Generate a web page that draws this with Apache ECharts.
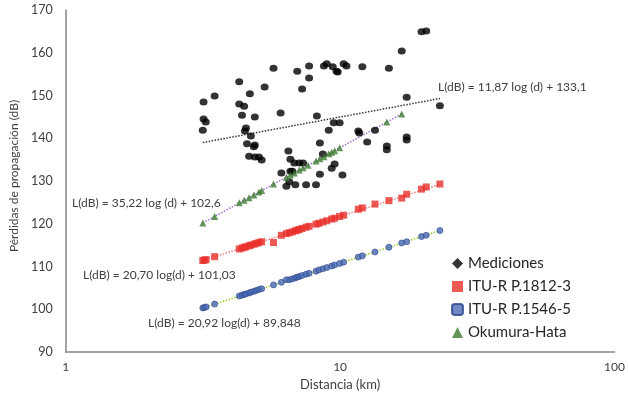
<!DOCTYPE html>
<html>
<head>
<meta charset="utf-8">
<script src="https://cdn.jsdelivr.net/npm/echarts@6/dist/echarts.min.js"></script>
<style>
  html, body { margin: 0; padding: 0; background: #fff; }
  #chart { width: 628px; height: 396px; }
</style>
</head>
<body>
<div id="chart"></div>
<script>
// datos: [distancia km, perdidas dB]
const mediciones = [
  [3.18,148.5],[3.49,149.9],[3.16,141.9],[3.18,144.5],[3.24,143.8],
  [4.29,153.2],[4.29,148.0],[4.47,147.5],[4.69,150.4],[4.39,145.4],[4.89,145.0],
  [4.54,142.4],[4.50,141.7],[4.73,140.5],[4.58,138.7],[4.89,138.4],[4.85,138.0],
  [4.66,135.8],[4.89,135.6],[5.06,135.6],[5.18,134.9],
  [5.31,152.0],[5.72,156.4],[6.07,145.9],[6.98,155.7],[7.71,156.9],[7.71,154.1],[7.27,151.5],
  [8.23,145.2],[6.48,137.0],[6.59,135.1],[6.81,134.2],[7.10,134.2],[7.33,134.2],
  [6.11,131.9],[6.59,132.3],[6.70,132.3],[6.53,129.8],[6.37,128.8],[6.87,129.1],[7.52,129.1],[8.17,129.1],
  [8.44,138.9],[8.44,131.6],
  [8.73,156.9],[8.94,157.4],[9.40,156.7],[9.70,155.7],[9.80,155.5],[10.3,157.4],[10.55,156.9],[12.05,156.7],[15.06,156.4],
  [16.77,160.4],[19.8,164.9],[20.6,165.1],[17.48,149.6],[23.1,147.6],
  [9.48,143.6],[9.96,143.6],[9.09,141.9],[11.65,141.7],[11.75,141.2],[13.4,141.9],
  [12.55,139.1],[14.8,138.2],[14.8,137.3],[17.48,140.3],[17.48,139.6],
  [8.65,136.3],[9.55,134.0],[9.32,133.0],[10.2,131.4]
];

const distModelos = [3.16,3.2,3.25,3.49,4.29,4.39,4.47,4.54,4.66,4.73,4.85,4.95,5.06,5.18,5.72,
  6.11,6.37,6.53,6.7,6.87,6.98,7.1,7.27,7.52,7.71,8.17,8.37,8.65,8.94,9.32,9.55,9.96,10.3,
  11.65,12.05,13.4,15.06,16.77,17.48,19.8,20.6,23.1];

const p1812 = [111.4,111.5,111.6,112.3,114.1,114.3,114.5,114.6,114.85,115.0,115.2,115.4,115.6,115.8,115.6,
  117.3,117.7,117.9,118.1,118.35,118.5,118.65,118.9,119.2,119.4,119.9,120.1,120.4,120.7,121.1,121.3,121.7,122.0,
  123.4,123.7,124.6,125.4,126.0,126.9,128.1,128.6,129.3];

const p1546 = [100.3,100.4,100.55,101.2,103.1,103.3,103.45,103.6,103.8,104.0,104.2,104.4,104.6,104.8,105.7,
  106.3,106.9,106.9,107.1,107.35,107.5,107.65,107.9,108.2,108.4,108.9,109.2,109.45,109.75,110.1,110.35,110.7,111.0,
  112.2,112.5,113.4,114.5,115.5,115.8,117.0,117.3,118.4];

const distHata = [3.16,3.49,4.29,4.47,4.66,4.85,5.06,5.18,5.72,6.37,6.59,6.81,7.1,7.33,7.64,
  8.17,8.44,8.73,9.09,9.32,9.55,9.96,14.8,16.77];
const okumuraHata = [120.2,121.7,124.9,125.5,126.1,126.75,127.4,127.8,129.3,130.9,131.4,131.9,132.6,133.1,133.7,
  134.7,135.2,135.7,136.4,136.7,137.1,137.8,143.8,145.7];

// extremos de las lineas de tendencia
const tendMediciones = [[3.16,139.0],[23.1,149.3]];
const tendP1812 = [[3.16,111.4],[23.1,129.2]];
const tendP1546 = [[3.16,100.3],[23.1,118.4]];
const tendHata = [[3.16,120.2],[16.77,145.7]];

const yTicks = { min: 90, max: 170, interval: 10 };

const ecuaciones = [
  { text: 'L(dB) = 11,87 log (d) + 133,1', x: 438, y: 88 },
  { text: 'L(dB) = 35,22 log (d) + 102,6', x: 72, y: 204 },
  { text: 'L(dB) = 20,70 log(d) + 101,03', x: 83, y: 276 },
  { text: 'L(dB) = 20,92 log(d) + 89,848', x: 148, y: 324 }
];

const zip = (xs, ys) => xs.map((x, i) => [x, ys[i]]);
const FONT = 'Lato, "Open Sans", sans-serif';

const chart = echarts.init(document.getElementById('chart'));

function tendencia(data, color) {
  return {
    type: 'line',
    data: data,
    showSymbol: false,
    silent: true,
    z: 1,
    lineStyle: { type: 'dotted', width: 1.5, color: color }
  };
}

const option = {
  animation: false,
  textStyle: { fontFamily: FONT },
  grid: { left: 60, top: 10, right: 11, bottom: 44 },
  legend: {
    orient: 'vertical',
    left: 446,
    top: 251,
    itemGap: 8,
    itemWidth: 11,
    itemHeight: 11,
    textStyle: { fontSize: 15, color: '#262626', fontFamily: FONT },
    data: [
      { name: 'Mediciones', icon: 'diamond' },
      { name: 'ITU-R P.1812-3', icon: 'rect' },
      { name: 'ITU-R P.1546-5', icon: 'roundRect' },
      { name: 'Okumura-Hata', icon: 'triangle' }
    ]
  },
  xAxis: {
    type: 'log',
    logBase: 10,
    min: 1,
    max: 100,
    name: 'Distancia (km)',
    nameLocation: 'middle',
    nameGap: 25,
    nameTextStyle: { fontSize: 13, color: '#404040' },
    axisLine: { lineStyle: { color: '#868686', width: 1.5 } },
    axisTick: { show: false },
    minorTick: { show: false },
    splitLine: { show: false },
    axisLabel: { fontSize: 12, color: '#404040', margin: 9 }
  },
  yAxis: {
    type: 'value',
    min: yTicks.min,
    max: yTicks.max,
    interval: yTicks.interval,
    name: 'Pérdidas de propagación (dB)',
    nameLocation: 'middle',
    nameGap: 45,
    nameTextStyle: { fontSize: 12, color: '#404040', padding: [0, 0, 0, 10] },
    axisLine: { show: true, lineStyle: { color: '#868686', width: 1.5 } },
    axisTick: { show: false },
    splitLine: { show: false },
    axisLabel: { fontSize: 12.5, color: '#404040', margin: 13 }
  },
  graphic: ecuaciones.map(e => ({
    type: 'text',
    left: e.x,
    top: e.y - 7,
    style: { text: e.text, fill: '#404040', font: '12px ' + FONT }
  })),
  series: [
    tendencia(tendMediciones, '#333333'),
    tendencia(tendP1812, '#f08080'),
    tendencia(tendP1546, '#9acd32'),
    tendencia(tendHata, '#a070d0'),
    {
      name: 'Mediciones',
      type: 'scatter',
      data: mediciones,
      symbol: 'circle',
      symbolSize: [8, 7],
      itemStyle: { color: '#000000' },
      z: 3
    },
    {
      name: 'ITU-R P.1812-3',
      type: 'scatter',
      data: zip(distModelos, p1812),
      symbol: 'rect',
      symbolSize: 7,
      itemStyle: { color: '#e8302a' },
      z: 3
    },
    {
      name: 'ITU-R P.1546-5',
      type: 'scatter',
      data: zip(distModelos, p1546),
      symbol: 'circle',
      symbolSize: 6,
      itemStyle: { color: '#4a6cb8', borderColor: '#2a4488', borderWidth: 0.8 },
      z: 3
    },
    {
      name: 'Okumura-Hata',
      type: 'scatter',
      data: zip(distHata, okumuraHata),
      symbol: 'triangle',
      symbolSize: 7,
      itemStyle: { color: '#3c7a30' },
      z: 3
    }
  ]
};

chart.setOption(option);
window.addEventListener('resize', () => chart.resize());
</script>
</body>
</html>
